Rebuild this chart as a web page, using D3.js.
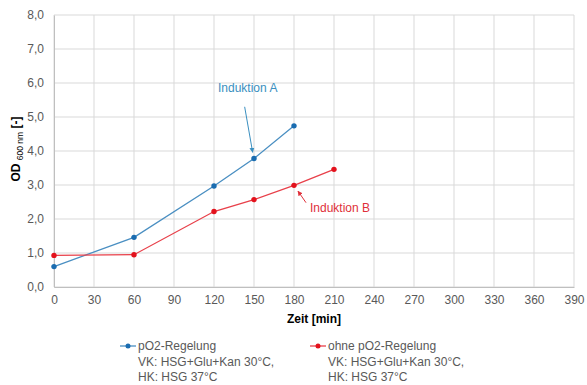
<!DOCTYPE html>
<html lang="en">
<head>
    <meta charset="utf-8">
    <title>OD600 Verlauf</title>
    <style>
        body {
            margin: 0;
            background: #fff;
            font-family: "Liberation Sans", Arial, sans-serif;
        }
        .tick text {
            fill: #595959;
            font-size: 12px;
        }
        .legend text {
            fill: #595959;
            font-size: 12px;
        }
    </style>
</head>
<body>
<svg class="chart"></svg>
<script src="https://d3js.org/d3.v7.min.js"></script>
<script>

  const width = 587;
  const height = 385;
  const margin = {top: 15, right: 13, bottom: 98, left: 54};

  const zeit = [0, 60, 120, 150, 180, 210];
  const odMitRegelung = [0.60, 1.46, 2.97, 3.78, 4.74];
  const odOhneRegelung = [0.93, 0.95, 2.22, 2.57, 2.99, 3.46];
  const xTicks = d3.range(0, 391, 30);
  const yTicks = d3.range(0, 8.01, 1);
  const serien = [
    {name: "pO2-Regelung", values: odMitRegelung, line: "#4a8fc2", dot: "#1a6cb0"},
    {name: "ohne pO2-Regelung", values: odOhneRegelung, line: "#e8404a", dot: "#e3121d"}
  ];

  const innerW = width - margin.left - margin.right;
  const innerH = height - margin.top - margin.bottom;

  const x = d3.scaleLinear().domain([0, 390]).range([0, innerW]);
  const y = d3.scaleLinear().domain([0, 8]).range([innerH, 0]);

  const svg = d3.select(".chart")
    .attr("width", width)
    .attr("height", height);

  const g = svg.append("g")
    .attr("transform", `translate(${margin.left},${margin.top})`);

  // grid
  g.append("g")
    .selectAll("line")
    .data(yTicks)
    .join("line")
    .attr("x1", 0).attr("x2", innerW)
    .attr("y1", d => y(d)).attr("y2", d => y(d))
    .attr("stroke", "#d9d9d9");

  g.append("g")
    .selectAll("line")
    .data(xTicks)
    .join("line")
    .attr("x1", d => x(d)).attr("x2", d => x(d))
    .attr("y1", 0).attr("y2", innerH)
    .attr("stroke", "#d9d9d9");

  const fmt = d => d.toFixed(1).replace(".", ",");

  const xAxis = g.append("g")
    .attr("transform", `translate(0,${innerH})`)
    .call(d3.axisBottom(x).tickValues(xTicks).tickSize(0).tickPadding(8));
  xAxis.select(".domain").attr("stroke", "#bfbfbf");

  const yAxis = g.append("g")
    .call(d3.axisLeft(y).tickValues(yTicks).tickFormat(fmt).tickSize(0).tickPadding(10));
  yAxis.select(".domain").attr("stroke", "#bfbfbf");

  // axis titles
  svg.append("text")
    .attr("x", margin.left + innerW / 2)
    .attr("y", 323)
    .attr("text-anchor", "middle")
    .attr("font-size", 12)
    .attr("font-weight", "bold")
    .attr("fill", "#000")
    .text("Zeit [min]");

  const yTitle = svg.append("text")
    .attr("transform", `translate(20,${margin.top + innerH / 2 - 2}) rotate(-90)`)
    .attr("text-anchor", "middle")
    .attr("font-size", 12)
    .attr("font-weight", "bold")
    .attr("fill", "#000");
  yTitle.append("tspan").text("OD ");
  yTitle.append("tspan").attr("font-size", 8.5).attr("font-weight", "normal").attr("dy", 3).text("600 nm");
  yTitle.append("tspan").attr("dy", -3).text(" [-]");

  // series
  const line = d3.line().x(d => x(d[0])).y(d => y(d[1]));
  serien.forEach(s => {
    const pts = s.values.map((v, i) => [zeit[i], v]);
    g.append("path")
      .datum(pts)
      .attr("d", line)
      .attr("fill", "none")
      .attr("stroke", s.line)
      .attr("stroke-width", 1.3);
    g.selectAll(null)
      .data(pts)
      .join("circle")
      .attr("cx", d => x(d[0]))
      .attr("cy", d => y(d[1]))
      .attr("r", 2.7)
      .attr("fill", s.dot);
  });

  // annotations
  const defs = svg.append("defs");
  [["arrA", "#3a8fc0"], ["arrB", "#e0303a"]].forEach(([id, c]) => {
    defs.append("marker")
      .attr("id", id)
      .attr("viewBox", "0 0 10 10")
      .attr("refX", 9).attr("refY", 5)
      .attr("markerWidth", 5).attr("markerHeight", 5)
      .attr("orient", "auto")
      .append("path")
      .attr("d", "M0,0L10,5L0,10z")
      .attr("fill", c);
  });

  g.append("text")
    .attr("x", x(123)).attr("y", y(5.73))
    .attr("font-size", 12)
    .attr("fill", "#3a8fc0")
    .text("Induktion A");
  g.append("line")
    .attr("x1", x(143)).attr("y1", y(5.3))
    .attr("x2", x(149)).attr("y2", y(3.96))
    .attr("stroke", "#3a8fc0")
    .attr("marker-end", "url(#arrA)");

  g.append("text")
    .attr("x", x(192)).attr("y", y(2.2))
    .attr("font-size", 12)
    .attr("fill", "#e0303a")
    .text("Induktion B");
  g.append("line")
    .attr("x1", x(189)).attr("y1", y(2.48))
    .attr("x2", x(183)).attr("y2", y(2.82))
    .attr("stroke", "#e0303a")
    .attr("marker-end", "url(#arrB)");

  // legend
  const legend = svg.append("g").attr("class", "legend");
  const legendPos = [120, 310];
  serien.forEach((s, i) => {
    const lg = legend.append("g").attr("transform", `translate(${legendPos[i]},346)`);
    lg.append("line").attr("x1", 0).attr("x2", 16).attr("stroke", s.line).attr("stroke-width", 1.3);
    lg.append("circle").attr("cx", 8).attr("r", 2.5).attr("fill", s.dot);
    const t = lg.append("text").attr("x", 18).attr("y", 4);
    [s.name, "VK: HSG+Glu+Kan 30°C,", "HK: HSG 37°C"].forEach((txt, j) => {
      t.append("tspan").attr("x", 18).attr("dy", j === 0 ? 0 : 15.5).text(txt);
    });
  });

</script>
</body>
</html>
